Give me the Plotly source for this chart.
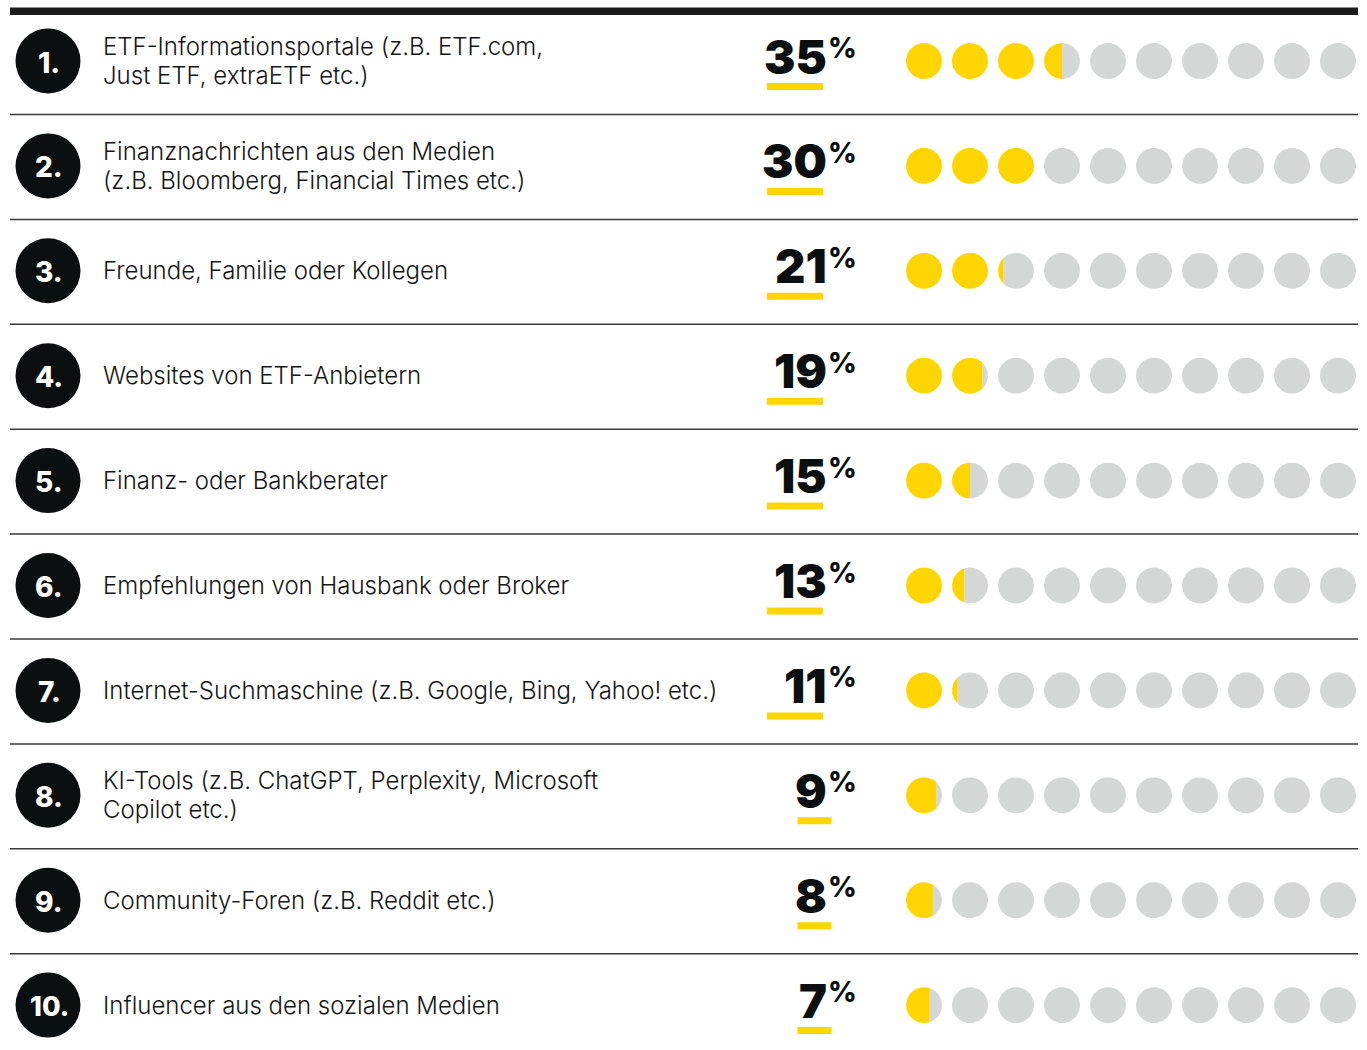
import numpy as np
import plotly.graph_objects as go

# --- data -------------------------------------------------------------
ranks = ["1.", "2.", "3.", "4.", "5.", "6.", "7.", "8.", "9.", "10."]
sources = [
    "ETF-Informationsportale (z.B. ETF.com,<br>Just ETF, extraETF etc.)",
    "Finanznachrichten aus den Medien<br>(z.B. Bloomberg, Financial Times etc.)",
    "Freunde, Familie oder Kollegen",
    "Websites von ETF-Anbietern",
    "Finanz- oder Bankberater",
    "Empfehlungen von Hausbank oder Broker",
    "Internet-Suchmaschine (z.B. Google, Bing, Yahoo! etc.)",
    "KI-Tools (z.B. ChatGPT, Perplexity, Microsoft<br>Copilot etc.)",
    "Community-Foren (z.B. Reddit etc.)",
    "Influencer aus den sozialen Medien",
]
shares = [35, 30, 21, 19, 15, 13, 11, 9, 8, 7]

# --- layout constants (pixel space) ----------------------------------
W, H = 1367, 1050
ROW0, ROW_STEP = 61, 104.9
LEFT, RIGHT = 10, 1358
BADGE_X = 48
LABEL_X = 101
LINE_GAP = 29
NUM_RIGHT = 829
DOT_X0, DOT_STEP, DOT_R = 924, 46, 18
N_DOTS, PER_DOT = 10, 10

YELLOW = "#FFD500"
GREY = "#D5D6D6"
INK = "#0B0F0F"
TEXT = "#151515"


def cut_for_area(frac):
    """Chord position (unit radius) leaving `frac` of the disc area on its left."""
    if frac <= 0:
        return -1.0
    if frac >= 1:
        return 1.0
    lo, hi = -1.0, 1.0
    for _ in range(60):
        c = (lo + hi) / 2
        left = (np.pi - (np.arccos(c) - c * np.sqrt(1 - c * c))) / np.pi
        if left < frac:
            lo = c
        else:
            hi = c
    return (lo + hi) / 2


def arc(cx, cy, a0, a1, n=72):
    t = np.linspace(a0, a1, n)
    return list(cx + DOT_R * np.cos(t)), list(cy + DOT_R * np.sin(t))


yx, yy, gx, gy = [], [], [], []
for i, share in enumerate(shares):
    cy = ROW0 + i * ROW_STEP
    for d in range(N_DOTS):
        cx = DOT_X0 + d * DOT_STEP
        frac = min(max((share - d * PER_DOT) / PER_DOT, 0), 1)
        c = cut_for_area(frac)
        th = float(np.arccos(c))
        if frac > 0:
            xs, ys = arc(cx, cy, th, 2 * np.pi - th)
            yx += xs + [None]
            yy += ys + [None]
        if frac < 1:
            xs, ys = arc(cx, cy, -th, th)
            gx += xs + [None]
            gy += ys + [None]

row_y = [ROW0 + i * ROW_STEP for i in range(len(shares))]

fig = go.Figure()

fig.add_trace(go.Scatter(x=gx, y=gy, mode="lines", fill="toself", fillcolor=GREY,
                         line=dict(width=0, color=GREY), hoverinfo="skip", showlegend=False))
fig.add_trace(go.Scatter(x=yx, y=yy, mode="lines", fill="toself", fillcolor=YELLOW,
                         line=dict(width=0, color=YELLOW), hoverinfo="skip", showlegend=False))

# rank badges
fig.add_trace(go.Scatter(
    x=[BADGE_X] * len(ranks), y=row_y, mode="markers",
    marker=dict(size=65, color=INK, line=dict(width=0)),
    hoverinfo="skip", showlegend=False))

annotations = []
shapes = [dict(type="rect", x0=LEFT, x1=RIGHT, y0=7.5, y1=15, fillcolor="#1B1B1B",
               line=dict(width=0), layer="below")]

for i, (rank, src, share) in enumerate(zip(ranks, sources, shares)):
    cy = row_y[i]
    annotations.append(dict(x=BADGE_X + 1, y=cy + 1.5, text=rank, xanchor="center",
                            yanchor="middle", showarrow=False,
                            font=dict(family="Inter", size=28 if len(rank) < 3 else 27,
                                      color="white", weight=800)))
    lines = src.split("<br>")
    first = cy - LINE_GAP * (len(lines) - 1) / 2
    for k, line in enumerate(lines):
        annotations.append(dict(x=LABEL_X, y=first + k * LINE_GAP, text=line,
                                xanchor="left", yanchor="middle", align="left",
                                showarrow=False,
                                font=dict(family="Inter", size=24, color=TEXT, weight=350)))
    annotations.append(dict(x=NUM_RIGHT, y=cy - 5, text=str(share), xanchor="right",
                            yanchor="middle", showarrow=False,
                            font=dict(family="Inter", size=47, color=INK, weight=900)))
    annotations.append(dict(x=NUM_RIGHT - 3, y=cy - 13, text="%", xanchor="left",
                            yanchor="middle", showarrow=False,
                            font=dict(family="Inter", size=28, color=INK, weight=800)))
    n = len(str(share))
    ux0 = NUM_RIGHT - 1 - 30.5 * n
    shapes.append(dict(type="rect", x0=ux0, x1=ux0 + 22 * n + 12, y0=cy + 22, y1=cy + 29,
                       fillcolor=YELLOW, line=dict(width=0)))
    if i < len(shares) - 1:
        sy = cy + 53.5
        shapes.append(dict(type="line", x0=LEFT, x1=RIGHT, y0=sy, y1=sy,
                           line=dict(color="#3A3A3A", width=1.5)))

fig.update_layout(
    width=W, height=H, margin=dict(l=0, r=0, t=0, b=0),
    paper_bgcolor="white", plot_bgcolor="white",
    xaxis=dict(range=[0, W], visible=False, fixedrange=True),
    yaxis=dict(range=[H, 0], visible=False, fixedrange=True),
    annotations=annotations, shapes=shapes,
)

fig.write_html("out.html")
